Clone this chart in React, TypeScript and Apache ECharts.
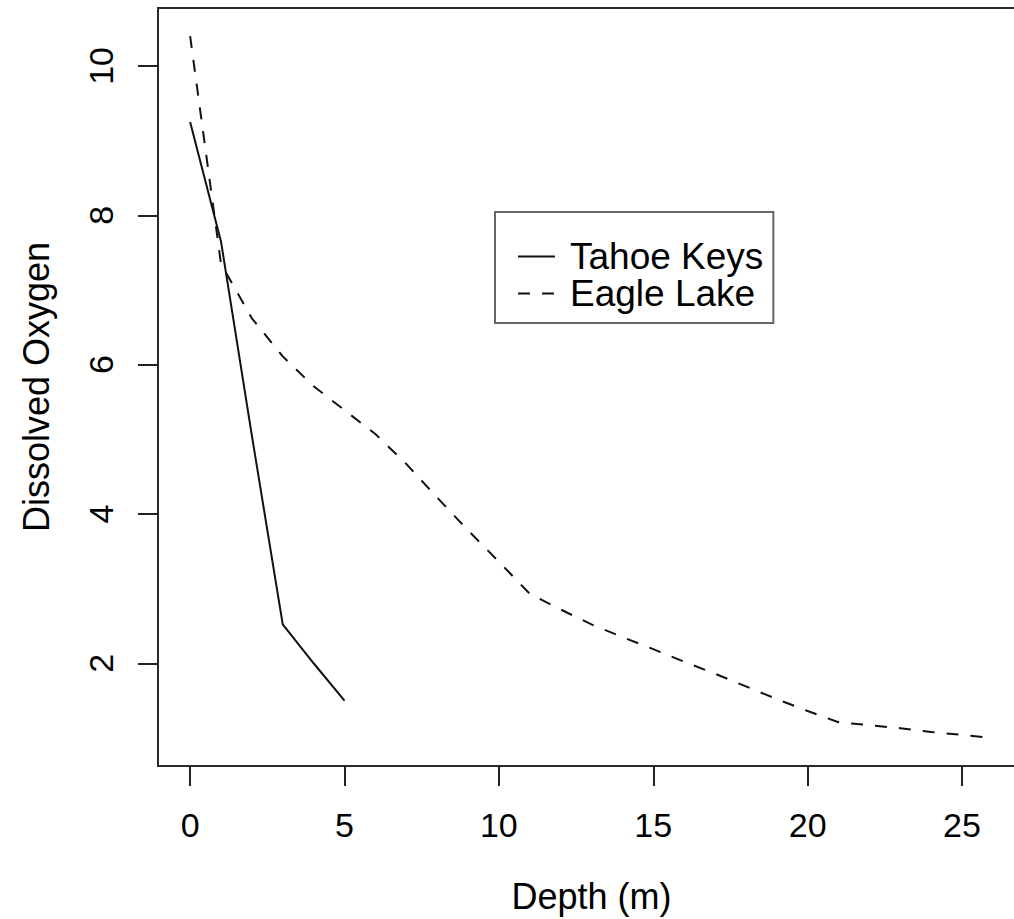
import React, { useEffect, useRef } from "react";
import * as echarts from "echarts";

const tahoeDepth = [0, 1, 2, 3, 4, 5];
const tahoeDO = [9.25, 7.65, 5.05, 2.52, 2.0, 1.5];

const eagleDepth = [0, 1, 2, 3, 4, 5, 6, 7, 8, 9, 10, 11, 12, 13, 14, 15, 16, 17, 18, 19, 20, 21, 22, 23, 24, 25, 26];
const eagleDO = [10.4, 7.35, 6.62, 6.11, 5.71, 5.39, 5.07, 4.67, 4.22, 3.78, 3.36, 2.93, 2.72, 2.52, 2.35, 2.19, 2.02, 1.86, 1.69, 1.52, 1.36, 1.21, 1.17, 1.13, 1.08, 1.04, 1.0];

const xTicks = [0, 5, 10, 15, 20, 25];
const yTicks = [2, 4, 6, 8, 10];

const seriesNames = ["Tahoe Keys", "Eagle Lake"];

const FONT = "Liberation Sans";

export default function App() {
  const ref = useRef<HTMLDivElement>(null);
  useEffect(() => {
    if (!ref.current) return;
    const chart = echarts.init(ref.current, null, { renderer: "svg" });
    const pair = (xs: number[], ys: number[]) => xs.map((x, i) => [x, ys[i]]);
    chart.setOption({
      animation: false,
      backgroundColor: "#fff",
      grid: {
        left: 158,
        top: 8,
        width: 867,
        height: 758,
        show: true,
        borderColor: "#2a2a2a",
        borderWidth: 2,
        backgroundColor: "transparent",
        outerBoundsMode: "none",
        containLabel: false,
      },
      xAxis: {
        type: "value",
        min: -1.04,
        max: 27.04,
        name: "Depth (m)",
        nameLocation: "middle",
        nameGap: 112,
        nameTextStyle: { fontFamily: FONT, fontSize: 36, color: "#000" },
        axisLine: { show: false, onZero: false },
        splitLine: { show: false },
        axisTick: { show: true, length: 20, customValues: xTicks, lineStyle: { color: "#222", width: 2 } },
        axisLabel: { customValues: xTicks, margin: 42, fontFamily: FONT, fontSize: 34, color: "#000" },
      },
      yAxis: {
        type: "value",
        min: 0.624,
        max: 10.776,
        name: "Dissolved Oxygen",
        nameLocation: "middle",
        nameGap: 104,
        nameRotate: 90,
        nameTextStyle: { fontFamily: FONT, fontSize: 36, color: "#000" },
        axisLine: { show: false, onZero: false },
        splitLine: { show: false },
        axisTick: { show: true, length: 20, customValues: yTicks, lineStyle: { color: "#222", width: 2 } },
        axisLabel: { customValues: yTicks, rotate: 90, margin: 40, fontFamily: FONT, fontSize: 34, color: "#000" },
      },
      legend: {
        orient: "vertical",
        left: 495,
        top: 212,
        padding: [26, 10, 11, 22],
        borderColor: "#666",
        borderWidth: 2,
        itemWidth: 37,
        itemHeight: 14,
        itemGap: 0,
        data: seriesNames,
        itemStyle: { opacity: 0 },
        textStyle: { fontFamily: FONT, fontSize: 37, lineHeight: 37, color: "#000", padding: [0, 0, 0, 10] },
      },
      series: [
        {
          name: seriesNames[0],
          type: "line",
          data: pair(tahoeDepth, tahoeDO),
          symbol: "none",
          itemStyle: { color: "#111" },
          lineStyle: { color: "#111", width: 2 },
        },
        {
          name: seriesNames[1],
          type: "line",
          data: pair(eagleDepth, eagleDO),
          symbol: "none",
          itemStyle: { color: "#111" },
          lineStyle: { color: "#111", width: 2, type: [12, 12] },
        },
      ],
    });
    return () => chart.dispose();
  }, []);
  return <div ref={ref} style={{ position: "fixed", left: 0, top: 0, width: 1014, height: 919 }} />;
}
